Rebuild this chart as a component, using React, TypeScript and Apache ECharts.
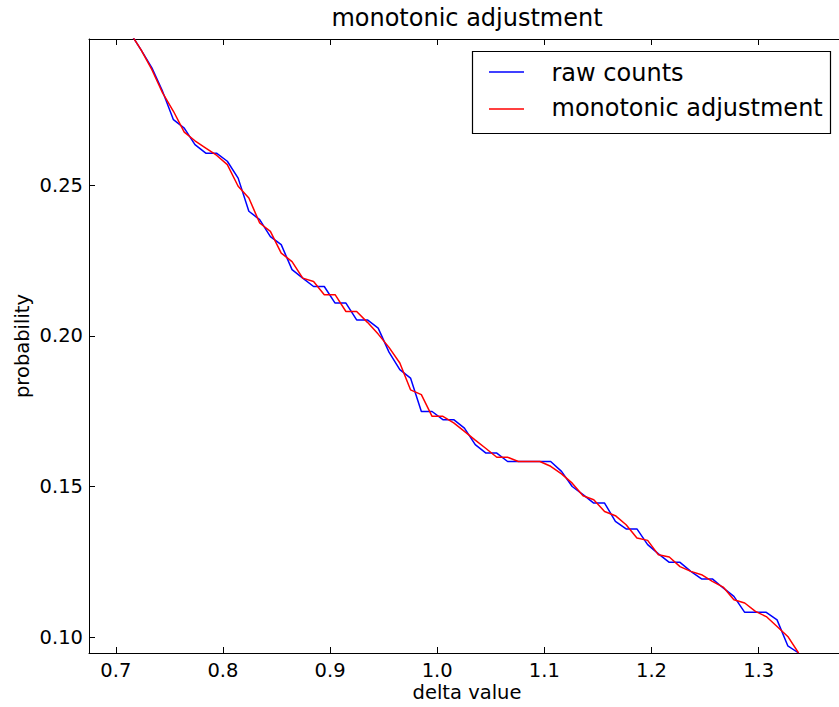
import React, { useEffect, useRef } from "react";
import * as echarts from "echarts";

const FONT = "DejaVu Sans";

const xValues = [
  0.7136, 0.7236, 0.7337, 0.7437, 0.7538, 0.7639, 0.7739, 0.784, 0.794, 0.8041,
  0.8142, 0.8242, 0.8343, 0.8443, 0.8544, 0.8645, 0.8745, 0.8846, 0.8946, 0.9047,
  0.9148, 0.9248, 0.9349, 0.9449, 0.955, 0.9651, 0.9751, 0.9852, 0.9952, 1.0053,
  1.0154, 1.0254, 1.0355, 1.0455, 1.0556, 1.0657, 1.0757, 1.0858, 1.0958, 1.1059,
  1.116, 1.126, 1.1361, 1.1461, 1.1562, 1.1663, 1.1763, 1.1864, 1.1964, 1.2065,
  1.2166, 1.2266, 1.2367, 1.2467, 1.2568, 1.2669, 1.2769, 1.287, 1.297, 1.3071,
  1.3172, 1.3272, 1.3373,
];

const rawCounts = [
  0.3006, 0.295, 0.289, 0.2812, 0.2718, 0.269, 0.2635, 0.2607, 0.2607, 0.258,
  0.2524, 0.2414, 0.2386, 0.233, 0.2303, 0.222, 0.2192, 0.2164, 0.2164, 0.2109,
  0.2109, 0.2053, 0.2053, 0.2026, 0.1946, 0.1888, 0.186, 0.1749, 0.1749, 0.1722,
  0.1722, 0.1694, 0.1639, 0.1611, 0.1611, 0.1583, 0.1583, 0.1583, 0.1583, 0.1583,
  0.155, 0.15, 0.1473, 0.1445, 0.1445, 0.1384, 0.1359, 0.1359, 0.1307, 0.1276,
  0.1248, 0.1248, 0.1218, 0.1193, 0.1193, 0.1163, 0.1135, 0.1082, 0.1082, 0.1082,
  0.1057, 0.0971, 0.0947,
];

const monotonic = [
  0.3006, 0.295, 0.2884, 0.2807, 0.2746, 0.2677, 0.2648, 0.2624, 0.26, 0.2569,
  0.2497, 0.2458, 0.2375, 0.2347, 0.2275, 0.2247, 0.2192, 0.2181, 0.2137, 0.2137,
  0.2081, 0.2081, 0.2045, 0.2006, 0.1962, 0.191, 0.1821, 0.1805, 0.1733, 0.1733,
  0.1711, 0.1683, 0.1654, 0.1626, 0.1597, 0.1597, 0.1583, 0.1583, 0.1583, 0.1567,
  0.1542, 0.1511, 0.1469, 0.1456, 0.1417, 0.1403, 0.1373, 0.1329, 0.1321, 0.1273,
  0.1266, 0.1234, 0.1218, 0.1207, 0.1185, 0.1166, 0.1124, 0.1113, 0.1085, 0.1068,
  0.1035, 0.1002, 0.0947,
];

const xTicks = [0.7, 0.8, 0.9, 1.0, 1.1, 1.2, 1.3];
const yTicks = [0.1, 0.15, 0.2, 0.25];

const X_MIN = 0.675;
const X_MAX = 1.375;
const Y_MIN = 0.0947;
const Y_MAX = 0.2986;

const seriesNames = ["raw counts", "monotonic adjustment"];
const seriesColors = ["#0000ff", "#ff0000"];

export default function App() {
  const ref = useRef<HTMLDivElement>(null);

  useEffect(() => {
    if (!ref.current) return;
    const chart = echarts.init(ref.current, null, { renderer: "svg" });
    const axisLine = { show: true, onZero: false, lineStyle: { color: "#000", width: 1 } };
    const option: any = {
      animation: false,
      backgroundColor: "#fff",
      grid: { left: 89, top: 39, width: 757, height: 614, containLabel: false },
      xAxis: [
        {
          type: "value",
          min: X_MIN,
          max: X_MAX,
          position: "bottom",
          axisLine,
          axisTick: {
            show: true,
            inside: true,
            length: 6,
            customValues: xTicks,
            lineStyle: { color: "#000", width: 1 },
          },
          axisLabel: {
            show: true,
            customValues: xTicks,
            formatter: (v: number) => v.toFixed(1),
            color: "#000",
            fontSize: 19.5,
            fontFamily: FONT,
            margin: 7,
          },
          splitLine: { show: false },
        },
        {
          type: "value",
          min: X_MIN,
          max: X_MAX,
          position: "top",
          axisLine,
          axisTick: {
            show: true,
            inside: true,
            length: 6,
            customValues: xTicks,
            lineStyle: { color: "#000", width: 1 },
          },
          axisLabel: { show: false },
          splitLine: { show: false },
        },
      ],
      yAxis: {
        type: "value",
        min: Y_MIN,
        max: Y_MAX,
        position: "left",
        axisLine,
        axisTick: {
          show: true,
          inside: true,
          length: 6,
          customValues: yTicks,
          lineStyle: { color: "#000", width: 1 },
        },
        axisLabel: {
          show: true,
          customValues: yTicks,
          formatter: (v: number) => v.toFixed(2),
          color: "#000",
          fontSize: 19.5,
          fontFamily: FONT,
          margin: 6,
        },
        splitLine: { show: false },
      },
      series: [
        {
          type: "line",
          name: seriesNames[0],
          data: xValues.map((x, i) => [x, rawCounts[i]]),
          showSymbol: false,
          symbol: "none",
          clip: true,
          lineStyle: { color: seriesColors[0], width: 1.5 },
          itemStyle: { color: seriesColors[0] },
          z: 2,
        },
        {
          type: "line",
          name: seriesNames[1],
          data: xValues.map((x, i) => [x, monotonic[i]]),
          showSymbol: false,
          symbol: "none",
          clip: true,
          lineStyle: { color: seriesColors[1], width: 1.5 },
          itemStyle: { color: seriesColors[1] },
          z: 3,
        },
      ],
      graphic: [
        {
          type: "text",
          x: 467,
          y: 17.5,
          style: {
            text: "monotonic adjustment",
            fontSize: 24,
            fontFamily: FONT,
            fill: "#000",
            align: "center",
            verticalAlign: "middle",
          },
        },
        {
          type: "text",
          x: 467,
          y: 692,
          style: {
            text: "delta value",
            fontSize: 19.5,
            fontFamily: FONT,
            fill: "#000",
            align: "center",
            verticalAlign: "middle",
          },
        },
        {
          type: "text",
          x: 22,
          y: 346,
          rotation: Math.PI / 2,
          style: {
            text: "probability",
            fontSize: 19.5,
            fontFamily: FONT,
            fill: "#000",
            align: "center",
            verticalAlign: "middle",
          },
        },
        {
          type: "group",
          z: 100,
          children: [
            {
              type: "rect",
              shape: { x: 472.5, y: 51.5, width: 358, height: 82 },
              style: { fill: "#fff", stroke: "#000", lineWidth: 1.2 },
              z: 100,
            },
            {
              type: "line",
              shape: { x1: 489, y1: 72, x2: 524, y2: 72 },
              style: { stroke: seriesColors[0], lineWidth: 1.5 },
              z: 101,
            },
            {
              type: "line",
              shape: { x1: 489, y1: 109, x2: 524, y2: 109 },
              style: { stroke: seriesColors[1], lineWidth: 1.5 },
              z: 101,
            },
            {
              type: "text",
              x: 551.5,
              y: 73.4,
              z: 101,
              style: {
                text: seriesNames[0],
                fontSize: 24,
                fontFamily: FONT,
                fill: "#000",
                align: "left",
                verticalAlign: "middle",
              },
            },
            {
              type: "text",
              x: 551.5,
              y: 107.7,
              z: 101,
              style: {
                text: seriesNames[1],
                fontSize: 24,
                fontFamily: FONT,
                fill: "#000",
                align: "left",
                verticalAlign: "middle",
              },
            },
          ],
        },
      ],
    };
    chart.setOption(option);
    return () => chart.dispose();
  }, []);

  return (
    <div
      style={{
        position: "absolute",
        left: 0,
        top: 0,
        width: 839,
        height: 707,
        overflow: "hidden",
        background: "#fff",
      }}
    >
      <div ref={ref} style={{ width: 839, height: 707 }} />
    </div>
  );
}
